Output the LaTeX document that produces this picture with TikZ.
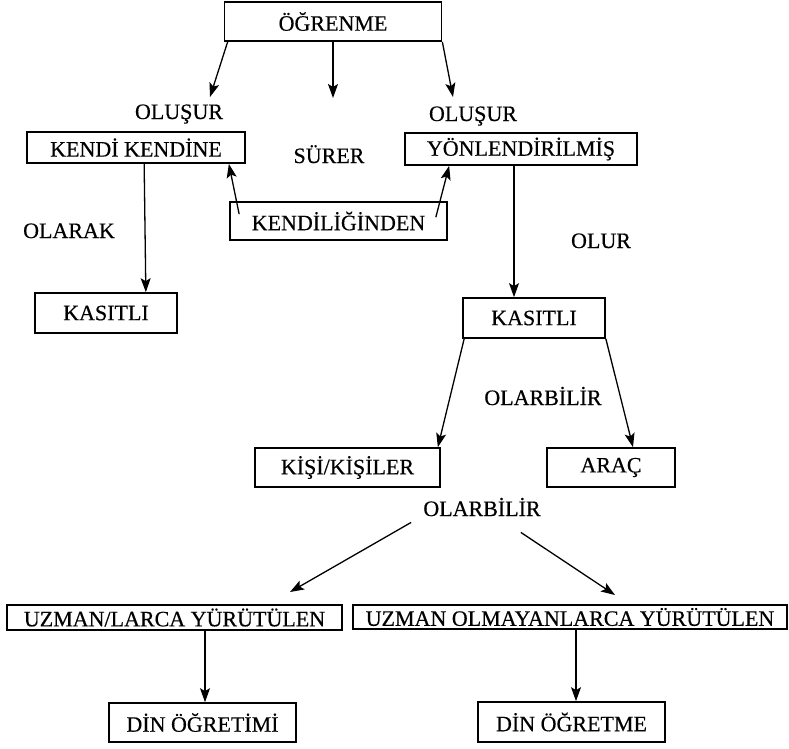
\documentclass[tikz,border=0pt]{standalone}
\usepackage{fontspec}
\setmainfont{Liberation Serif}[FakeBold=0.4]
\usetikzlibrary{positioning,calc,arrows.meta}

\begin{document}
\begin{tikzpicture}[x=1pt, y=-1pt,
    kutu/.style={rectangle, draw, line width=1.7pt, minimum width=#1, minimum height=39pt,
                 inner sep=0pt, text centered, font=\fontsize{22}{26}\selectfont},
    etiket/.style={anchor=base, inner sep=0pt, font=\fontsize{22}{26}\selectfont},
    ok/.style={-{Stealth[length=14pt,width=10pt,inset=3pt]}, line width=1.3pt}
]
\useasboundingbox (0,0) rectangle (789,748);

% Kutular
\node[kutu=217pt] (ogrenme) at (333,21.5) {ÖĞRENME};
\node[kutu=218pt, minimum height=31pt] (kendi) at (136,147.5) {KENDİ KENDİNE};
\node[kutu=232pt, minimum height=32pt] (yonlendirilmis) at (521,149) {YÖNLENDİRİLMİŞ};
\node[kutu=217pt, minimum height=38pt] (kendiliginden) at (338.5,221) {KENDİLİĞİNDEN};
\node[kutu=142pt, minimum height=40pt] (kasitliA) at (106,313) {KASITLI};
\node[kutu=142pt, minimum height=40pt] (kasitliB) at (534,318) {KASITLI};
\node[kutu=185pt] (kisiler) at (347.5,467.5) {KİŞİ/KİŞİLER};
\node[kutu=128pt] (arac) at (611,467.5) {ARAÇ};
\node[kutu=335pt, minimum height=25pt] (uzman) at (174.5,617.5) {UZMAN/LARCA YÜRÜTÜLEN};
\node[kutu=434pt, minimum height=24pt] (uzmandegil) at (570,617) {UZMAN OLMAYANLARCA YÜRÜTÜLEN};
\node[kutu=187pt] (ogretim) at (202.5,722.5) {DİN ÖĞRETİMİ};
\node[kutu=187pt, minimum height=40pt] (ogretme) at (571.5,722) {DİN ÖĞRETME};

% Etiketler
\node[etiket] (olusurA) at (179,119) {OLUŞUR};
\node[etiket] (olusurB) at (473,121) {OLUŞUR};
\node[etiket] (surer) at (329,163) {SÜRER};
\node[etiket] (olarak) at (69,238) {OLARAK};
\node[etiket] (olur) at (601,248) {OLUR};
\node[etiket] (olarbilirA) at (543,405) {OLARBİLİR};
\node[etiket] (olarbilirB) at (482,516) {OLARBİLİR};

\coordinate (ucA) at (210,97);
\coordinate (ucB) at (333,98);
\coordinate (ucC) at (453,97);
\coordinate (ucD) at (290,592);
\coordinate (ucE) at (615,595);

% Oklar
\draw[ok] ($(ogrenme.south west)+(4,0)$) -- (ucA);
\draw[ok] (ogrenme.south) -- (ucB);
\draw[ok] (ogrenme.south east) -- (ucC);
\draw[ok] ($(kendiliginden.north west)+(10,13)$) -- ($(kendi.south east)+(-17,0)$);
\draw[ok] ($(kendiliginden.north east)+(-12,16)$) -- ($(yonlendirilmis.south west)+(45,0)$);
\draw[ok] ($(kendi.south west)+(118,0)$) -- ($(kasitliA.north east)+(-32,0)$);
\draw[ok] ($(yonlendirilmis.south)+(-7,0)$) -- ($(kasitliB.north)+(-20,0)$);
\draw[ok] ($(kasitliB.south west)+(2,0)$) -- ($(kisiler.north east)+(-3,0)$);
\draw[ok] (kasitliB.south east) -- ($(arac.north)+(22,0)$);
\draw[ok] ($(olarbilirB.south west)+(-12,6)$) -- (ucD);
\draw[ok] ($(olarbilirB.south east)+(-20,16)$) -- (ucE);
\draw[ok] ($(uzman.south)+(30.5,0)$) -- ($(ogretim.north)+(2.5,0)$);
\draw[ok] ($(uzmandegil.south)+(6,0)$) -- ($(ogretme.north)+(4.5,0)$);

\end{tikzpicture}
\end{document}
